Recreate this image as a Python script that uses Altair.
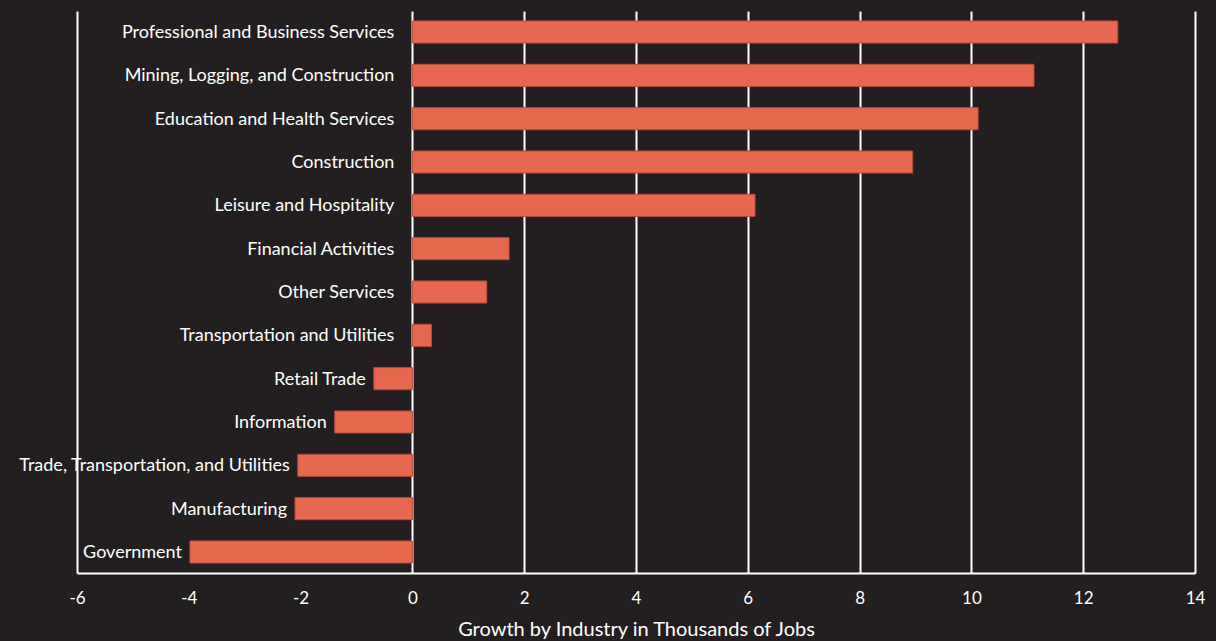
import altair as alt
import pandas as pd

industries = [
    "Professional and Business Services",
    "Mining, Logging, and Construction",
    "Education and Health Services",
    "Construction",
    "Leisure and Hospitality",
    "Financial Activities",
    "Other Services",
    "Transportation and Utilities",
    "Retail Trade",
    "Information",
    "Trade, Transportation, and Utilities",
    "Manufacturing",
    "Government",
]
growth = [12.62, 11.12, 10.12, 8.95, 6.13, 1.73, 1.33, 0.34, -0.69, -1.39, -2.05, -2.1, -3.98]
x_ticks = [-6, -4, -2, 0, 2, 4, 6, 8, 10, 12, 14]

df = pd.DataFrame({"industry": industries, "growth": growth})

BG = "#231f20"
BAR = "#e8684f"
FONT = "Lato"

xscale = alt.Scale(domain=[-6, 14], nice=False, zero=False)
yscale = alt.Scale(domain=industries, paddingInner=0.49, paddingOuter=0.23)

base = alt.Chart(df)

bars = base.mark_bar(color=BAR, stroke="#b84a38", strokeWidth=1).encode(
    x=alt.X(
        "growth:Q",
        scale=xscale,
        axis=alt.Axis(
            values=x_ticks,
            title="Growth by Industry in Thousands of Jobs",
            grid=True,
            gridColor="white",
            gridWidth=2,
            gridOpacity={
                "condition": {"test": "datum.value < 0 && datum.value > -6", "value": 0},
                "value": 1,
            },
            domainColor="white",
            domainWidth=2,
            ticks=False,
            labelExpr="datum.value < 0 ? '-' + abs(datum.value) : '' + datum.value",
            labelColor="white",
            labelFont=FONT,
            labelFontSize=17,
            labelPadding=17,
            labelFlush=False,
            titleColor="white",
            titleFont=FONT,
            titleFontSize=20,
            titleFontWeight="normal",
            titlePadding=13,
        ),
    ),
    x2=alt.datum(0),
    y=alt.Y("industry:N", scale=yscale, axis=None, sort=industries),
)

pos_labels = base.transform_calculate(zero="0").transform_filter("datum.growth >= 0").mark_text(
    align="right", baseline="middle", dx=-18, dy=1, color="white", font=FONT, fontSize=18
).encode(
    x=alt.X("zero:Q", scale=xscale),
    y=alt.Y("industry:N", scale=yscale, sort=industries),
    text="industry:N",
)

neg_labels = base.transform_filter("datum.growth < 0").mark_text(
    align="right", baseline="middle", dx=-8, dy=1, color="white", font=FONT, fontSize=18
).encode(
    x=alt.X("growth:Q", scale=xscale),
    y=alt.Y("industry:N", scale=yscale, sort=industries),
    text="industry:N",
)

chart = (
    alt.layer(bars, pos_labels, neg_labels)
    .properties(
        width=1118,
        height=562,
        background=BG,
        padding={"left": 77, "top": 11, "right": 21, "bottom": 68},
        autosize=alt.AutoSizeParams(type="none"),
    )
    .configure_view(stroke=None)
)

chart.save("out.html", embed_options={"renderer": "svg", "actions": False})
